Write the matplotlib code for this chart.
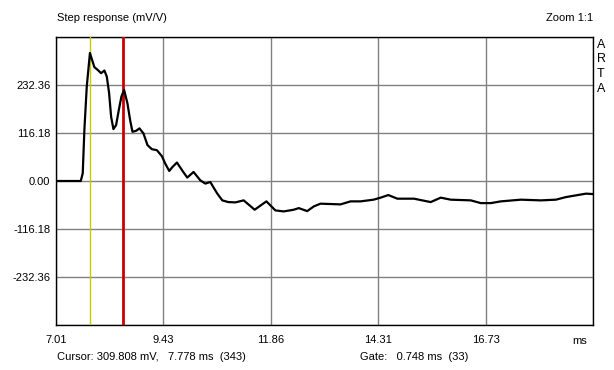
import matplotlib
matplotlib.use("Agg")
import matplotlib.pyplot as plt

plt.rcParams['font.family'] = ['Liberation Sans', 'DejaVu Sans']

# step response (ms, mV/V)
t_ms = [7.010, 7.570, 7.615, 7.652, 7.706, 7.778, 7.878, 7.969, 8.030, 8.105,
        8.159, 8.211, 8.257, 8.309, 8.370, 8.431, 8.490, 8.551, 8.626, 8.687,
        8.740, 8.823, 8.898, 8.989, 9.080, 9.179, 9.293, 9.406, 9.481, 9.572,
        9.646, 9.746, 9.889, 9.980, 10.122, 10.274, 10.388, 10.501, 10.569, 10.660,
        10.773, 10.909, 11.068, 11.256, 11.505, 11.770, 11.974, 12.162, 12.298, 12.389,
        12.503, 12.693, 12.843, 12.994, 13.448, 13.674, 13.901, 14.196, 14.355, 14.529,
        14.733, 15.110, 15.375, 15.488, 15.715, 15.942, 16.395, 16.621, 16.848, 17.075,
        17.528, 17.981, 18.321, 18.548, 18.774, 19.001, 19.160]
step = [0.0, 0.0, 18.7, 123.2, 228.5, 309.8, 275.6, 267.4, 261.0, 267.4,
        252.8, 213.2, 155.6, 125.7, 135.4, 171.8, 204.2, 220.4, 188.1, 147.5,
        119.1, 121.5, 127.4, 115.2, 86.8, 77.0, 74.6, 60.0, 42.3, 24.3,
        34.0, 44.7, 21.9, 8.3, 21.9, 1.7, -6.3, -2.4, -14.6, -30.6,
        -46.9, -51.0, -51.8, -46.9, -69.5, -49.3, -71.2, -73.6, -71.2, -69.5,
        -65.6, -72.9, -61.5, -54.9, -56.6, -49.3, -49.3, -45.2, -40.3, -34.0,
        -42.8, -42.8, -48.6, -51.0, -40.3, -45.2, -46.9, -53.5, -53.5, -49.3,
        -45.2, -46.9, -45.2, -38.9, -34.8, -30.6, -31.6]

cursor_ms = 7.778
gate_end_ms = 8.526

x_ticks = [7.01, 9.44, 11.87, 14.30, 16.73, 19.16]
x_labels = ['7.01', '9.43', '11.86', '14.31', '16.73', '']
y_ticks = [-348.54, -232.36, -116.18, 0.0, 116.18, 232.36, 348.54]
y_labels = ['', '-232.36', '-116.18', '0.00', '116.18', '232.36', '']

fig = plt.figure(figsize=(6.14, 3.70), dpi=100)
ax = fig.add_axes([56/614, 45/370, 537/614, 288/370])

ax.set_xlim(x_ticks[0], x_ticks[-1])
ax.set_ylim(y_ticks[0], y_ticks[-1])
ax.set_xticks(x_ticks)
ax.set_xticklabels(x_labels)
ax.set_yticks(y_ticks)
ax.set_yticklabels(y_labels)
ax.grid(True, color='#808080', linewidth=1.0)
ax.tick_params(axis='x', length=0, labelsize=8, pad=7.5)
ax.tick_params(axis='y', length=0, labelsize=8, pad=4)
for s in ax.spines.values():
    s.set_linewidth(1.0)
    s.set_color('black')

ax.axvline(cursor_ms, color='#c8c800', linewidth=1.0, zorder=3)
ax.axvline(gate_end_ms, color='#cc0000', linewidth=2.0, zorder=3)
ax.plot(t_ms, step, color='black', linewidth=1.6, zorder=4,
        solid_joinstyle='round', solid_capstyle='round')

fig.text(57/614, 1 - 18/370, 'Step response (mV/V)', fontsize=8, va='center', ha='left')
fig.text(593/614, 1 - 18/370, 'Zoom 1:1', fontsize=8, va='center', ha='right')
for i, ch in enumerate('ARTA'):
    fig.text(597/614, 1 - (45 + i * 14.5) / 370, ch, fontsize=9, va='center', ha='left')
fig.text(580/614, 1 - 341/370, 'ms', fontsize=8, va='center', ha='center')
fig.text(57/614, 1 - 357/370, 'Cursor: 309.808 mV,   7.778 ms  (343)', fontsize=8,
         va='center', ha='left')
fig.text(360/614, 1 - 357/370, 'Gate:   0.748 ms  (33)', fontsize=8, va='center', ha='left')

fig.savefig('out.png', dpi=100)
